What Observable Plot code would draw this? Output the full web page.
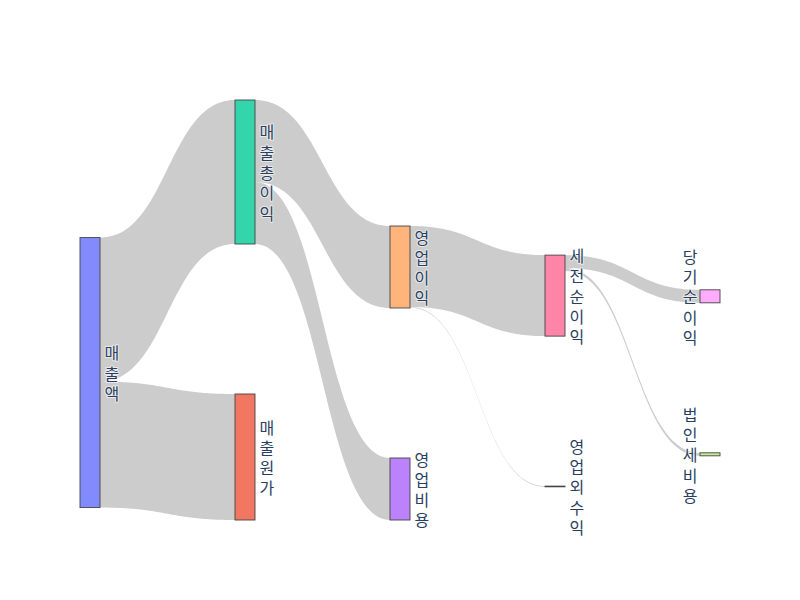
<!DOCTYPE html>
<html>
<head>
<meta charset="utf-8">
<script src="https://cdn.jsdelivr.net/npm/d3@7"></script>
<script src="https://cdn.jsdelivr.net/npm/@observablehq/plot@0.6"></script>
<style>
  html, body { margin: 0; padding: 0; background: #fff; }
  #chart { width: 800px; height: 600px; }
</style>
</head>
<body>
<div id="chart"></div>
<script>
// ---- Data ----
const nodeNames = ["매출액", "매출원가", "매출총이익", "영업비용", "영업이익", "영업외수익", "세전순이익", "법인세비용", "당기순이익"];
const nodeColors = ["#636efa", "#EF553B", "#00cc96", "#ab63fa", "#FFA15A", "#19d3f3", "#FF6692", "#B6E880", "#FF97FF"];
const linkSources = ["매출액", "매출액", "매출총이익", "매출총이익", "영업이익", "영업이익", "세전순이익", "세전순이익"];
const linkTargets = ["매출원가", "매출총이익", "영업비용", "영업이익", "영업외수익", "세전순이익", "법인세비용", "당기순이익"];
const linkValues = [126, 144, 62, 82, 0.7, 81, 3, 13];

// ---- Sankey layout (classic d3-sankey relaxation, left aligned) ----
function sankeyLayout({width, height, nodeWidth, nodePadding, iterations}) {
  const nodes = nodeNames.map((name, index) => ({name, index, color: nodeColors[index], sourceLinks: [], targetLinks: []}));
  const byName = new Map(nodes.map(n => [n.name, n]));
  const links = linkValues.map((value, index) => ({index, value, source: byName.get(linkSources[index]), target: byName.get(linkTargets[index])}));
  for (const l of links) { l.source.sourceLinks.push(l); l.target.targetLinks.push(l); }
  for (const n of nodes) n.value = Math.max(d3.sum(n.sourceLinks, l => l.value), d3.sum(n.targetLinks, l => l.value));
  let current = nodes, depth = 0;
  while (current.length) {
    const next = [];
    for (const n of current) { n.depth = depth; for (const {target} of n.sourceLinks) if (!next.includes(target)) next.push(target); }
    depth++; current = next;
  }
  const nLayers = depth;
  const kx = (width - nodeWidth) / (nLayers - 1);
  const columns = Array.from({length: nLayers}, () => []);
  for (const n of nodes) { n.layer = n.depth; n.x0 = n.layer * kx; n.x1 = n.x0 + nodeWidth; columns[n.layer].push(n); }
  const y0 = 0, y1 = height, py = nodePadding;
  const center = n => (n.y0 + n.y1) / 2;
  const ky = d3.min(columns, c => (y1 - y0 - (c.length - 1) * py) / d3.sum(c, n => n.value));
  for (const ns of columns) ns.forEach((n, i) => { n.y0 = i; n.y1 = i + n.value * ky; });
  for (const l of links) l.width = l.value * ky;

  function resolveCollisions() {
    for (const ns of columns) {
      let y = y0, node, dy;
      ns.sort((a, b) => a.y0 - b.y0);
      for (node of ns) { dy = y - node.y0; if (dy > 0) { node.y0 += dy; node.y1 += dy; } y = node.y1 + py; }
      node = ns[ns.length - 1];
      dy = y - py - y1;
      if (dy > 0) {
        node.y0 -= dy; node.y1 -= dy; y = node.y0;
        for (let i = ns.length - 2; i >= 0; --i) {
          node = ns[i];
          dy = node.y1 + py - y;
          if (dy > 0) { node.y0 -= dy; node.y1 -= dy; }
          y = node.y0;
        }
      }
    }
  }
  function relaxLeftToRight(alpha) {
    for (const ns of columns) for (const n of ns) {
      if (n.targetLinks.length) {
        const dy = (d3.sum(n.targetLinks, l => center(l.source) * l.value) / d3.sum(n.targetLinks, l => l.value) - center(n)) * alpha;
        n.y0 += dy; n.y1 += dy;
      }
    }
  }
  function relaxRightToLeft(alpha) {
    for (const ns of columns.slice().reverse()) for (const n of ns) {
      if (n.sourceLinks.length) {
        const dy = (d3.sum(n.sourceLinks, l => center(l.target) * l.value) / d3.sum(n.sourceLinks, l => l.value) - center(n)) * alpha;
        n.y0 += dy; n.y1 += dy;
      }
    }
  }
  resolveCollisions();
  for (let alpha = 1, k = iterations; k > 0; --k) {
    relaxRightToLeft(alpha *= 0.99);
    resolveCollisions();
    relaxLeftToRight(alpha);
    resolveCollisions();
  }
  for (const n of nodes) {
    n.sourceLinks.sort((a, b) => a.target.y0 - b.target.y0);
    n.targetLinks.sort((a, b) => a.source.y0 - b.source.y0);
  }
  for (const n of nodes) {
    let a = n.y0, b = n.y0;
    for (const l of n.sourceLinks) { l.y0 = a + l.width / 2; a += l.width; }
    for (const l of n.targetLinks) { l.y1 = b + l.width / 2; b += l.width; }
  }
  return {nodes, links, nLayers};
}

const W = 640, H = 420;
const layout = sankeyLayout({width: W, height: H, nodeWidth: 20, nodePadding: 150, iterations: 50});

// Link bands as cubic Bézier ribbons (curvature 0.5), sampled along t
const linkPoints = [];
const N = 60;
for (const l of layout.links) {
  const sx = l.source.x1, tx = l.target.x0, xm = (sx + tx) / 2, w = l.width;
  for (let k = 0; k <= N; k++) {
    const t = k / N, u = 1 - t;
    const a = u * u * u + 3 * u * u * t, b = 3 * u * t * t + t * t * t;
    const x = u * u * u * sx + 3 * u * u * t * xm + 3 * u * t * t * xm + t * t * t * tx;
    linkPoints.push({id: l.index, x, top: a * (l.y0 - w / 2) + b * (l.y1 - w / 2), bottom: a * (l.y0 + w / 2) + b * (l.y1 + w / 2)});
  }
}

const lastLayer = layout.nLayers - 1;
const labelText = d => Array.from(d.name).join("\n");
const fontFamily = "'Noto Sans CJK KR', 'Open Sans', sans-serif";

const chart = Plot.plot({
  width: 800,
  height: 600,
  marginLeft: 80,
  marginRight: 80,
  marginTop: 100,
  marginBottom: 80,
  x: {domain: [0, W], axis: null},
  y: {domain: [0, H], range: [100, 520], axis: null},
  color: {type: "identity"},
  style: {fontFamily, background: "#fff"},
  marks: [
    Plot.areaY(linkPoints, {x: "x", y1: "top", y2: "bottom", z: "id", fill: "#000", fillOpacity: 0.2, curve: "linear"}),
    Plot.rect(layout.nodes, {x1: "x0", x2: "x1", y1: "y0", y2: "y1", fill: "color", fillOpacity: 0.8, stroke: "#444", strokeWidth: 0.9}),
    Plot.text(layout.nodes.filter(d => d.layer < lastLayer), {
      x: "x1", y: d => (d.y0 + d.y1) / 2, text: labelText, textAnchor: "start", dx: 4,
      lineAnchor: "middle", lineHeight: 1.27, fontSize: 16, fill: "#2a3f5f",
      stroke: "#fff", strokeWidth: 2, strokeOpacity: 0.6, fontFamily
    }),
    Plot.text(layout.nodes.filter(d => d.layer === lastLayer), {
      x: "x0", y: d => (d.y0 + d.y1) / 2, text: labelText, textAnchor: "end", dx: -3,
      lineAnchor: "middle", lineHeight: 1.27, fontSize: 16, fill: "#2a3f5f",
      stroke: "#fff", strokeWidth: 2, strokeOpacity: 0.6, fontFamily
    })
  ]
});
document.getElementById("chart").appendChild(chart);
</script>
</body>
</html>
